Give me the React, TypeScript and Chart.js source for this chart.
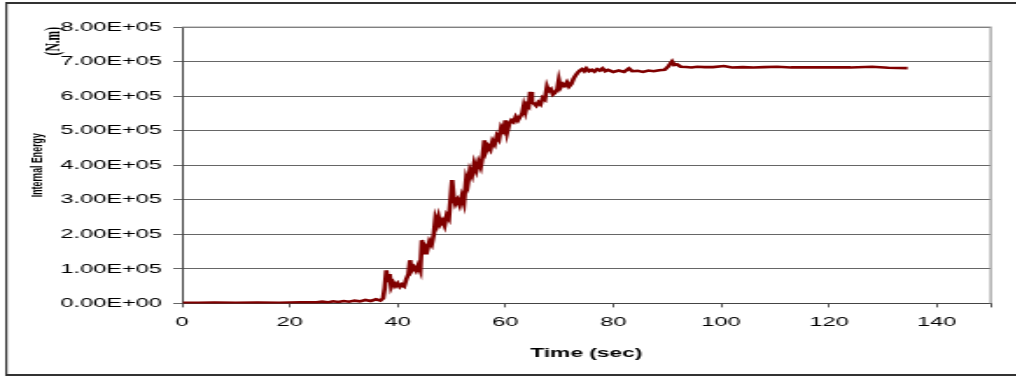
import { useEffect, useRef } from 'react';
import { Chart, registerables } from 'chart.js';

Chart.register(...registerables);

// ---- data ----
const timeSec = [
  0.2, 3, 6, 10, 14, 18, 22, 25, 26, 27, 28, 29, 30, 31, 32, 33, 34, 35, 36, 36.8,
  37.3, 37.6, 37.9, 38.2, 38.5, 38.8, 39.2, 39.6, 40.0, 40.4, 40.8, 41.2, 41.6, 42.0, 42.3, 42.6,
  43.0, 43.4, 43.8, 44.2, 44.5, 44.8, 45.1, 45.5, 45.9, 46.3, 46.7, 47.0, 47.3, 47.6, 47.9, 48.3,
  48.7, 49.1, 49.5, 49.8, 50.1, 50.4, 50.7, 51.1, 51.5, 51.9, 52.3, 52.7, 53.0, 53.4, 53.8, 54.2,
  54.6, 55.0, 55.4, 55.8, 56.1, 56.4, 56.8, 57.2, 57.6, 58.0, 58.4, 58.8, 59.2, 59.6, 60.0, 60.3,
  60.7, 61.1, 61.5, 61.9, 62.3, 62.7, 63.1, 63.4, 63.7, 64.0, 64.3, 64.6, 64.9, 65.3, 65.7, 66.1,
  66.5, 66.9, 67.3, 67.7, 68.0, 68.4, 68.8, 69.2, 69.6, 69.9, 70.2, 70.6, 71.0, 71.4, 71.8, 72.2,
  72.6, 73.0, 73.4, 73.8, 74.2, 74.6, 75.0, 75.5, 76.0, 76.5, 77.0, 77.5, 78.0, 78.5, 79.0, 80.0,
  81.0, 82.0, 82.9, 83.5, 84.5, 85.5, 86.5, 87.5, 88.5, 89.5, 90.2, 90.9, 91.3, 91.8, 92.5, 93.5,
  94.5, 95.5, 97, 98.5, 100.5, 102, 104, 106, 108, 110.4, 113, 116, 120, 124, 128, 131, 134.6,
];

const internalEnergy = [
  2000, 2000, 2500, 2000, 2500, 2000, 3000, 3000, 5000, 3000, 6000, 4000, 7000, 5000, 8000, 6000, 10000, 7000, 12000, 8000,
  15000, 45000, 96000, 62000, 85000, 47000, 60000, 50000, 58000, 48000, 55000, 50000, 70000, 85000, 125000, 95000,
  105000, 95000, 110000, 95000, 183000, 145000, 165000, 155000, 180000, 170000, 200000, 245000, 230000, 250000, 230000, 240000,
  225000, 255000, 245000, 300000, 357000, 305000, 288000, 300000, 285000, 310000, 290000, 360000, 345000, 385000, 370000, 405000,
  385000, 410000, 395000, 430000, 472000, 440000, 455000, 445000, 470000, 460000, 485000, 475000, 510000, 500000, 530000, 495000,
  520000, 530000, 525000, 540000, 530000, 540000, 550000, 572000, 555000, 575000, 570000, 612000, 583000, 578000, 572000, 582000,
  576000, 595000, 590000, 627000, 615000, 620000, 605000, 610000, 620000, 646000, 625000, 635000, 630000, 640000, 628000, 635000,
  650000, 660000, 668000, 674000, 678000, 672000, 680000, 672000, 676000, 671000, 678000, 674000, 680000, 672000, 676000, 670000,
  674000, 670000, 680000, 672000, 673000, 670000, 674000, 672000, 675000, 676000, 686000, 700000, 690000, 692000, 685000, 684000,
  683000, 685000, 684000, 684000, 687000, 683000, 684000, 683000, 684000, 685000, 683000, 683000, 683000, 683000, 685000, 682000, 681000,
];

const xTickLabels = ['0', '20', '40', '60', '80', '100', '120', '140'];
const yTickLabels = [
  '0.00E+00', '1.00E+05', '2.00E+05', '3.00E+05', '4.00E+05',
  '5.00E+05', '6.00E+05', '7.00E+05', '8.00E+05',
];
const xAxisTitle = 'Time (sec)';
const yAxisTitle = 'Internal Energy';
const yAxisUnit = '(N.m)';

// ---- layout ----
const STRETCH = 1.75;
const CW = 581;
const CH = 377;

const framePlugin = {
  id: 'outerFrame',
  beforeDraw(chart: any) {
    const { ctx, width, height } = chart;
    ctx.save();
    ctx.fillStyle = '#ffffff';
    ctx.fillRect(0, 0, width, height);
    ctx.strokeStyle = '#333333';
    ctx.lineWidth = 2;
    ctx.beginPath();
    ctx.moveTo(3, 3);
    ctx.lineTo(width + 4, 3);
    ctx.moveTo(3, 375);
    ctx.lineTo(width + 4, 375);
    ctx.stroke();
    ctx.lineWidth = 1.2;
    ctx.beginPath();
    ctx.moveTo(3.6, 2);
    ctx.lineTo(3.6, 376);
    ctx.stroke();
    ctx.restore();
  },
};

const plotBorderPlugin = {
  id: 'plotBorder',
  beforeDatasetsDraw(chart: any) {
    const { ctx, chartArea: a } = chart;
    ctx.save();
    ctx.strokeStyle = '#9a9a9a';
    ctx.lineWidth = 1.2;
    ctx.beginPath();
    ctx.moveTo(a.left, a.top);
    ctx.lineTo(a.right, a.top);
    ctx.lineTo(a.right, a.bottom);
    ctx.stroke();
    ctx.restore();
  },
};

export default function App() {
  const canvasRef = useRef<HTMLCanvasElement | null>(null);

  useEffect(() => {
    const canvas = canvasRef.current;
    if (!canvas) return;
    const points = timeSec.map((t, i) => ({ x: t, y: internalEnergy[i] }));
    const chart = new Chart(canvas, {
      type: 'line',
      data: {
        datasets: [
          {
            label: 'Internal Energy',
            data: points,
            borderColor: '#800000',
            backgroundColor: '#800000',
            borderWidth: 2.6,
            pointRadius: 0,
            tension: 0,
            fill: false,
          },
        ],
      },
      options: {
        animation: false,
        responsive: false,
        maintainAspectRatio: false,
        devicePixelRatio: 1,
        font: { family: "'Liberation Sans', Arial, sans-serif" },
        layout: { padding: { left: 0, right: 14.9, top: 27, bottom: 16.2 } },
        plugins: {
          legend: { display: false },
          tooltip: { enabled: false },
          title: {
            display: true,
            text: yAxisTitle,
            position: 'left',
            align: 'center',
            fullSize: false,
            color: '#000000',
            font: { family: "'Liberation Sans', Arial, sans-serif", size: 8.8, weight: 'bold', lineHeight: '6px' },
            padding: { top: 18.7, bottom: 0 },
          },
          subtitle: {
            display: true,
            text: yAxisUnit,
            position: 'left',
            align: 'end',
            fullSize: false,
            color: '#000000',
            font: { family: "'Liberation Serif', 'Times New Roman', serif", size: 11.5, weight: 'bold', lineHeight: '6px' },
            padding: { top: 3.0, bottom: 0 },
          },
        },
        scales: {
          x: {
            type: 'linear',
            min: 0,
            max: 150,
            bounds: 'data',
            grid: {
              display: true,
              drawOnChartArea: false,
              drawTicks: true,
              tickLength: 4,
              color: '#555555',
            },
            border: { display: true, color: '#444444', width: 1 },
            ticks: {
              stepSize: 20,
              includeBounds: false,
              padding: 6.6,
              color: '#000000',
              maxRotation: 0,
              autoSkip: false,
              font: { family: "'Liberation Sans', Arial, sans-serif", size: 13.5 },
              callback: (value: any) => xTickLabels[Math.round(Number(value) / 20)] ?? '',
            },
            title: {
              display: true,
              text: xAxisTitle,
              color: '#000000',
              font: { family: "'Liberation Sans', Arial, sans-serif", size: 13, weight: 'bold' },
              padding: { top: 8.4, bottom: 0 },
            },
          },
          y: {
            type: 'linear',
            min: 0,
            max: 800000,
            grid: {
              display: true,
              drawTicks: true,
              tickLength: 5,
              color: '#666666',
              lineWidth: 1,
            },
            border: { display: true, color: '#444444', width: 1 },
            ticks: {
              stepSize: 100000,
              padding: 6.4,
              color: '#000000',
              autoSkip: false,
              font: { family: "'Liberation Sans', Arial, sans-serif", size: 13.5 },
              callback: (value: any) => yTickLabels[Math.round(Number(value) / 100000)] ?? '',
            },
            afterFit: (scale: any) => {
              scale.width = 70.3;
            },
          },
        },
      },
      plugins: [framePlugin, plotBorderPlugin],
    } as any);
    return () => {
      chart.destroy();
    };
  }, []);

  return (
    <div
      style={{
        position: 'fixed',
        left: 0,
        top: 0,
        width: 1016,
        height: 377,
        overflow: 'hidden',
        background: '#ffffff',
      }}
    >
      <div
        style={{
          width: CW,
          height: CH,
          transform: `scaleX(${STRETCH})`,
          transformOrigin: '0 0',
        }}
      >
        <canvas ref={canvasRef} width={CW} height={CH} style={{ display: 'block' }} />
      </div>
    </div>
  );
}
